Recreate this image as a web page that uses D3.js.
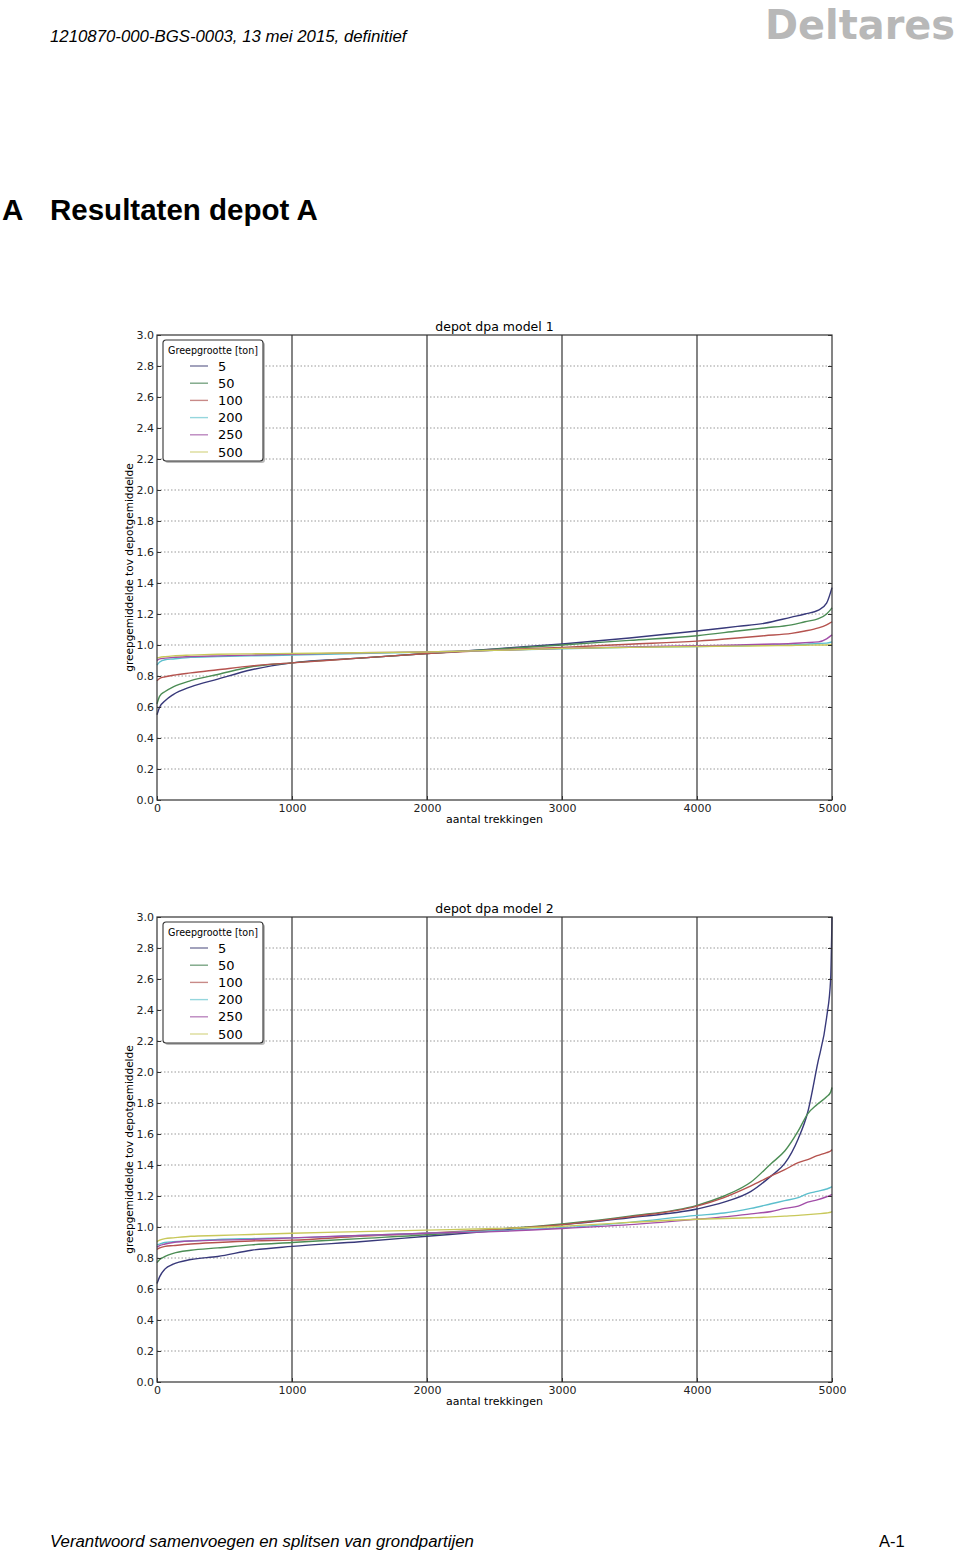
<!DOCTYPE html>
<html lang="nl">
<head>
<meta charset="UTF-8">
<title>Resultaten depot A</title>
<script src="https://d3js.org/d3.v7.min.js"></script>
<style>
    body { margin: 0; padding: 0; background: #fff; }
    svg { display: block; }
    .tick text { font-family: "DejaVu Sans", sans-serif; font-size: 11px; fill: #222; }
</style>
</head>
<body>
<svg id="page" width="960" height="1551"></svg>
<script>
// data
const sizes = ["5", "50", "100", "200", "250", "500"];
const colors = ["#38397a", "#4c8d55", "#b5534f", "#5cbfcd", "#a24ea8", "#c8c85a"];
const legendColors = ["#7a7aa0", "#7aa584", "#c88a88", "#95d6dd", "#bb86bf", "#dcdc98"];
const yTicks = [0.0, 0.2, 0.4, 0.6, 0.8, 1.0, 1.2, 1.4, 1.6, 1.8, 2.0, 2.2, 2.4, 2.6, 2.8, 3.0];
const xTicks = [0, 1000, 2000, 3000, 4000, 5000];

// model 1
const x1 = [0, 20, 60, 120, 250, 450, 700, 1000, 1500, 2000, 2500, 3000, 3500, 4000, 4300, 4500, 4700, 4800, 4900, 4960, 5000];
const m1_5   = [0.55, 0.60, 0.64, 0.68, 0.73, 0.78, 0.84, 0.885, 0.915, 0.945, 0.975, 1.006, 1.045, 1.09, 1.12, 1.14, 1.18, 1.20, 1.225, 1.27, 1.37];
const m1_50  = [0.62, 0.67, 0.70, 0.73, 0.77, 0.81, 0.86, 0.885, 0.915, 0.945, 0.973, 1.0, 1.03, 1.06, 1.09, 1.11, 1.13, 1.15, 1.17, 1.20, 1.24];
const m1_100 = [0.77, 0.785, 0.795, 0.805, 0.82, 0.84, 0.865, 0.885, 0.915, 0.945, 0.968, 0.985, 1.005, 1.025, 1.045, 1.06, 1.075, 1.09, 1.11, 1.13, 1.15];
const m1_200 = [0.87, 0.89, 0.905, 0.91, 0.92, 0.925, 0.93, 0.935, 0.945, 0.955, 0.965, 0.975, 0.985, 0.99, 0.995, 1.0, 1.0, 1.005, 1.01, 1.012, 1.02];
const m1_250 = [0.90, 0.91, 0.915, 0.92, 0.925, 0.93, 0.935, 0.94, 0.95, 0.955, 0.965, 0.978, 0.988, 0.995, 1.0, 1.005, 1.01, 1.015, 1.02, 1.04, 1.065];
const m1_500 = [0.915, 0.92, 0.925, 0.93, 0.935, 0.94, 0.943, 0.945, 0.95, 0.955, 0.965, 0.978, 0.985, 0.99, 0.993, 0.995, 0.997, 0.998, 1.0, 1.0, 1.003];

// model 2
const x2 = [0, 20, 60, 120, 250, 450, 700, 1000, 1500, 2000, 2500, 3000, 3500, 4000, 4200, 4400, 4550, 4650, 4750, 4820, 4890, 4960, 4990, 5000];
const m2_5   = [0.635, 0.68, 0.73, 0.76, 0.79, 0.81, 0.85, 0.875, 0.905, 0.94, 0.975, 1.015, 1.06, 1.116, 1.16, 1.23, 1.33, 1.41, 1.57, 1.74, 2.04, 2.35, 2.6, 3.0];
const m2_50  = [0.77, 0.79, 0.81, 0.83, 0.85, 0.865, 0.885, 0.90, 0.925, 0.95, 0.985, 1.02, 1.07, 1.14, 1.20, 1.29, 1.41, 1.49, 1.62, 1.73, 1.79, 1.84, 1.87, 1.90];
const m2_100 = [0.855, 0.865, 0.875, 0.88, 0.89, 0.90, 0.91, 0.915, 0.94, 0.96, 0.985, 1.015, 1.065, 1.135, 1.19, 1.265, 1.33, 1.37, 1.415, 1.435, 1.46, 1.48, 1.49, 1.50];
const m2_200 = [0.885, 0.89, 0.90, 0.905, 0.91, 0.92, 0.925, 0.93, 0.945, 0.96, 0.975, 0.995, 1.03, 1.075, 1.09, 1.12, 1.15, 1.17, 1.19, 1.215, 1.23, 1.245, 1.255, 1.26];
const m2_250 = [0.87, 0.88, 0.89, 0.90, 0.91, 0.915, 0.92, 0.93, 0.945, 0.96, 0.97, 0.99, 1.015, 1.05, 1.065, 1.085, 1.10, 1.12, 1.135, 1.16, 1.175, 1.195, 1.205, 1.21];
const m2_500 = [0.905, 0.915, 0.925, 0.93, 0.94, 0.945, 0.952, 0.96, 0.97, 0.98, 0.99, 1.005, 1.03, 1.05, 1.055, 1.06, 1.065, 1.07, 1.075, 1.08, 1.085, 1.09, 1.095, 1.10];

const svg = d3.select("#page");

// page header / footer
svg.append("text").attr("x", 50).attr("y", 42)
    .style("font-family", "'Liberation Sans', Arial, sans-serif").style("font-size", "16.8px").style("font-style", "italic")
    .text("1210870-000-BGS-0003, 13 mei 2015, definitief");
svg.append("text").attr("x", 765).attr("y", 39).attr("textLength", 190).attr("lengthAdjust", "spacingAndGlyphs")
    .style("font-family", "'DejaVu Sans', sans-serif").style("font-size", "40px").style("font-weight", "bold")
    .attr("fill", "#b8b8b8").text("Deltares");
svg.append("text").attr("x", 2).attr("y", 220)
    .style("font-family", "'Liberation Sans', Arial, sans-serif").style("font-size", "29.5px").style("font-weight", "bold")
    .text("A");
svg.append("text").attr("x", 50).attr("y", 220)
    .style("font-family", "'Liberation Sans', Arial, sans-serif").style("font-size", "29.5px").style("font-weight", "bold")
    .text("Resultaten depot A");
svg.append("text").attr("x", 50).attr("y", 1547)
    .style("font-family", "'Liberation Sans', Arial, sans-serif").style("font-size", "16.8px").style("font-style", "italic")
    .text("Verantwoord samenvoegen en splitsen van grondpartijen");
svg.append("text").attr("x", 879).attr("y", 1547)
    .style("font-family", "'Liberation Sans', Arial, sans-serif").style("font-size", "16.5px")
    .text("A-1");

function drawChart(top, title, xs, series) {
    const left = 157, w = 675, h = 465;
    const x = d3.scaleLinear().domain([0, 5000]).range([left, left + w]);
    const y = d3.scaleLinear().domain([0, 3]).range([top + h, top]);
    const g = svg.append("g");

    // horizontal dotted grid
    g.selectAll(".hgrid").data(yTicks.slice(1, -1)).enter().append("line")
        .attr("x1", left).attr("x2", left + w)
        .attr("y1", d => y(d)).attr("y2", d => y(d))
        .attr("stroke", "#999").attr("stroke-width", 1).attr("stroke-dasharray", "1.5,2");
    // vertical solid grid
    g.selectAll(".vgrid").data(xTicks.slice(1, -1)).enter().append("line")
        .attr("x1", d => x(d)).attr("x2", d => x(d))
        .attr("y1", top).attr("y2", top + h)
        .attr("stroke", "#333").attr("stroke-width", 1.2);

    // curves
    const line = d3.line().x(d => x(d[0])).y(d => y(d[1])).curve(d3.curveMonotoneX);
    series.forEach((vals, i) => {
        g.append("path").datum(xs.map((v, j) => [v, vals[j]]))
            .attr("d", line).attr("fill", "none")
            .attr("stroke", colors[i]).attr("stroke-width", 1.4);
    });

    // axes (ticks inside)
    const yAxis = d3.axisLeft(y).tickValues(yTicks).tickFormat(d3.format(".1f")).tickSize(-4).tickPadding(3);
    g.append("g").attr("transform", `translate(${left},0)`).call(yAxis)
        .call(a => a.select(".domain").remove());
    g.append("g").attr("transform", `translate(${left + w},0)`)
        .call(d3.axisRight(y).tickValues(yTicks).tickSize(-4).tickFormat(""))
        .call(a => a.select(".domain").remove());
    const xAxis = d3.axisBottom(x).tickValues(xTicks).tickFormat(d3.format("d")).tickSize(-4).tickPadding(4);
    g.append("g").attr("transform", `translate(0,${top + h})`).call(xAxis)
        .call(a => a.select(".domain").remove());
    g.selectAll(".tick line").attr("stroke", "#333");

    // frame
    g.append("rect").attr("x", left).attr("y", top).attr("width", w).attr("height", h)
        .attr("fill", "none").attr("stroke", "#333").attr("stroke-width", 1.2);

    // labels
    g.append("text").attr("x", left + w / 2).attr("y", top - 4).attr("text-anchor", "middle")
        .style("font-family", "'DejaVu Sans', sans-serif").style("font-size", "12.5px").text(title);
    g.append("text").attr("x", left + w / 2).attr("y", top + h + 23).attr("text-anchor", "middle")
        .style("font-family", "'DejaVu Sans', sans-serif").style("font-size", "11px").text("aantal trekkingen");
    g.append("text").attr("transform", `translate(133,${top + h / 2}) rotate(-90)`).attr("text-anchor", "middle")
        .style("font-family", "'DejaVu Sans', sans-serif").style("font-size", "10.5px")
        .text("greepgemiddelde tov depotgemiddelde");

    // legend
    const lg = g.append("g").attr("transform", `translate(163,${top + 5})`);
    lg.append("rect").attr("x", 2).attr("y", 2).attr("width", 100).attr("height", 121).attr("rx", 3)
        .attr("fill", "#bbb");
    lg.append("rect").attr("width", 100).attr("height", 121).attr("rx", 3)
        .attr("fill", "#fff").attr("stroke", "#333").attr("stroke-width", 1.1);
    lg.append("text").attr("x", 5).attr("y", 14).attr("textLength", 90).attr("lengthAdjust", "spacingAndGlyphs")
        .style("font-family", "'DejaVu Sans', sans-serif").style("font-size", "10.5px").text("Greepgrootte [ton]");
    sizes.forEach((s, i) => {
        const yy = 26 + i * 17.2;
        lg.append("line").attr("x1", 27).attr("x2", 45).attr("y1", yy).attr("y2", yy)
            .attr("stroke", legendColors[i]).attr("stroke-width", 1.4);
        lg.append("text").attr("x", 55).attr("y", yy + 4.5)
            .style("font-family", "'DejaVu Sans', sans-serif").style("font-size", "13px").text(s);
    });
}

drawChart(335, "depot dpa model 1", x1, [m1_5, m1_50, m1_100, m1_200, m1_250, m1_500]);
drawChart(917, "depot dpa model 2", x2, [m2_5, m2_50, m2_100, m2_200, m2_250, m2_500]);
</script>
</body>
</html>
